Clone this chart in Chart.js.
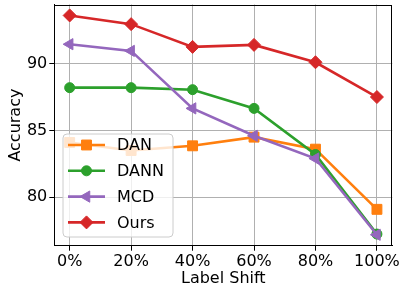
<!DOCTYPE html>
<html lang="en">
<head>
    <meta charset="UTF-8">
    <title>Accuracy vs Label Shift</title>
    <script src="https://cdn.jsdelivr.net/npm/chart.js@4.4.0/dist/chart.umd.min.js"></script>
    <style>
        html, body { margin: 0; padding: 0; background: #fff; }
        .wrapper { width: 399px; height: 288px; }
    </style>
</head>
<body>
    <div class="wrapper">
        <canvas id="myChart" width="399" height="288"></canvas>
    </div>
    <script>
        var shiftLabels = ["0%", "20%", "40%", "60%", "80%", "100%"];
        var yTicks = [80, 85, 90];
        var dan = [84.1, 83.5, 83.85, 84.5, 83.6, 79.1];
        var dann = [88.2, 88.2, 88.05, 86.65, 83.2, 77.25];
        var mcd = [91.45, 90.95, 86.65, 84.6, 82.9, 77.2];
        var ours = [93.6, 92.95, 91.25, 91.4, 90.1, 87.5];

        var FONT = "'DejaVu Sans', sans-serif";

        function pts(values) {
            var out = [];
            for (i = 0; i < values.length; i++) {
                out.push({x: i, y: values[i]});
            }
            return out;
        }

        function series(label, values, color, style, radius, rotation, order) {
            return {
                label: label,
                data: pts(values),
                borderColor: color,
                backgroundColor: color,
                pointBackgroundColor: color,
                pointBorderColor: color,
                borderWidth: 2.6,
                pointStyle: style,
                pointRadius: radius,
                pointHoverRadius: radius,
                pointBorderWidth: 1,
                pointRotation: rotation,
                tension: 0,
                order: order,
                clip: false
            };
        }

        var datasets = [
            series("DAN", dan, "#ff7f0e", "rect", 7, 0, 4),
            series("DANN", dann, "#2ca02c", "circle", 5, 0, 3),
            series("MCD", mcd, "#9467bd", "triangle", 6.5, -90, 2),
            series("Ours", ours, "#d62728", "rectRot", 6.5, 0, 1)
        ];

        // matplotlib-style 5% autoscale margins
        var all = dan.concat(dann, mcd, ours);
        var lo = Math.min.apply(null, all), hi = Math.max.apply(null, all);
        var pad = (hi - lo) * 0.05;

        function drawMarker(ctx, ds, x, y) {
            ctx.save();
            ctx.fillStyle = ds.pointBackgroundColor;
            ctx.strokeStyle = ds.pointBorderColor;
            ctx.lineWidth = ds.pointBorderWidth;
            Chart.helpers.drawPoint(ctx, {
                pointStyle: ds.pointStyle,
                rotation: ds.pointRotation,
                radius: ds.pointRadius,
                borderWidth: ds.pointBorderWidth
            }, x, y);
            ctx.restore();
        }

        var frameAndLegend = {
            id: 'frameAndLegend',
            afterDatasetsDraw: function(chart) {
                var ctx = chart.ctx;
                var a = chart.chartArea;
                ctx.save();
                ctx.strokeStyle = '#000';
                ctx.lineWidth = 1;
                ctx.strokeRect(Math.round(a.left) + 0.5, Math.round(a.top) + 0.5,
                    Math.round(a.right - a.left) - 1, Math.round(a.bottom - a.top) - 1);

                // legend box
                var bx = 63, by = 134, bw = 110, bh = 103, r = 4;
                ctx.beginPath();
                ctx.moveTo(bx + r, by);
                ctx.arcTo(bx + bw, by, bx + bw, by + bh, r);
                ctx.arcTo(bx + bw, by + bh, bx, by + bh, r);
                ctx.arcTo(bx, by + bh, bx, by, r);
                ctx.arcTo(bx, by, bx + bw, by, r);
                ctx.closePath();
                ctx.fillStyle = 'rgba(255,255,255,0.8)';
                ctx.fill();
                ctx.strokeStyle = '#cccccc';
                ctx.lineWidth = 1;
                ctx.stroke();

                var ds = chart.data.datasets;
                for (i = 0; i < ds.length; i++) {
                    var y = 145 + i * 25.8;
                    ctx.beginPath();
                    ctx.strokeStyle = ds[i].borderColor;
                    ctx.lineWidth = ds[i].borderWidth;
                    ctx.moveTo(68, y);
                    ctx.lineTo(105, y);
                    ctx.stroke();
                    drawMarker(ctx, ds[i], 86.5, y);
                    ctx.fillStyle = '#000';
                    ctx.font = '16px ' + FONT;
                    ctx.textAlign = 'left';
                    ctx.textBaseline = 'middle';
                    ctx.fillText(ds[i].label, 117, y + 1);
                }
                ctx.restore();
            }
        };

        var ctx = document.getElementById("myChart").getContext('2d');
        var chart = new Chart(ctx, {
            type: 'line',
            data: {datasets: datasets},
            options: {
                responsive: false,
                animation: false,
                events: [],
                layout: {autoPadding: false, padding: {top: 4.5, right: 6.7, left: 0, bottom: 0}},
                plugins: {
                    legend: {display: false},
                    tooltip: {enabled: false}
                },
                scales: {
                    x: {
                        type: 'linear',
                        min: -0.25,
                        max: shiftLabels.length - 1 + 0.25,
                        afterBuildTicks: function(scale) {
                            scale.ticks = shiftLabels.map(function(l, i) { return {value: i}; });
                        },
                        afterFit: function(scale) {
                            scale.height = 42.3;
                            scale.paddingLeft = 0;
                            scale.paddingRight = 0;
                        },
                        ticks: {
                            callback: function(v) { return shiftLabels[v]; },
                            color: '#000',
                            font: {family: FONT, size: 16},
                            padding: 2,
                            maxRotation: 0,
                            autoSkip: false
                        },
                        grid: {color: '#b0b0b0', lineWidth: 1, tickColor: '#000', tickLength: 5},
                        border: {color: '#000', width: 1},
                        title: {
                            display: true,
                            text: 'Label Shift',
                            color: '#000',
                            font: {family: FONT, size: 16},
                            padding: {top: 0, bottom: 0}
                        }
                    },
                    y: {
                        min: lo - pad,
                        max: hi + pad,
                        afterBuildTicks: function(scale) {
                            scale.ticks = yTicks.map(function(v) { return {value: v}; });
                        },
                        afterFit: function(scale) {
                            scale.width = 54.3;
                            scale.paddingTop = 0;
                            scale.paddingBottom = 0;
                        },
                        ticks: {
                            color: '#000',
                            font: {family: FONT, size: 16},
                            padding: 2
                        },
                        grid: {color: '#b0b0b0', lineWidth: 1, tickColor: '#000', tickLength: 5},
                        border: {color: '#000', width: 1},
                        title: {
                            display: true,
                            text: 'Accuracy',
                            color: '#000',
                            font: {family: FONT, size: 16},
                            padding: {top: 6, bottom: 0}
                        }
                    }
                }
            },
            plugins: [frameAndLegend]
        });
    </script>
</body>
</html>
